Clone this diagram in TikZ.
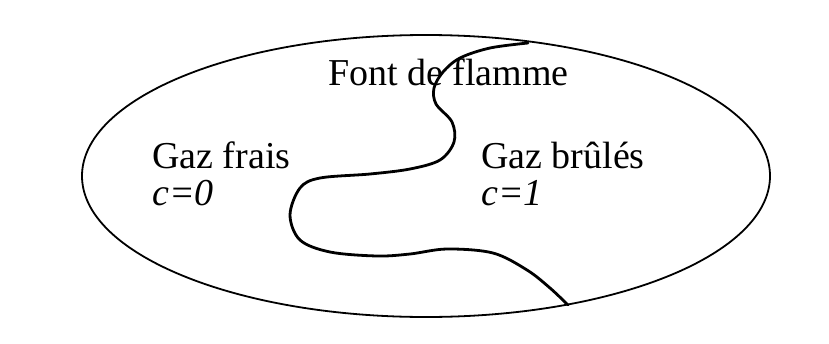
\documentclass[tikz,border=0pt]{standalone}
\usepackage{fontspec}
\setmainfont{Liberation Serif}
\begin{document}
\begin{tikzpicture}[x=1pt,y=-1pt,
  lbl/.style={anchor=base west,inner sep=0pt,font=\fontsize{38}{44}\selectfont},
  front/.style={line width=2.8pt,line join=round,line cap=round}]
\useasboundingbox (0,0) rectangle (829,343);
\draw[line width=1.8pt] (426,176) ellipse [x radius=344, y radius=141];
\draw[front] plot[smooth,tension=0.55] coordinates {
 (528,43) (490,48) (460,58) (443,72) (434,88) (436,104) (452,122) (454,142)
 (440,160) (410,169) (370,174) (320,178) (300,188) (290,215) (300,240)
 (330,252) (377,256) (410,254) (447,249) (493,253) (527,270) (550,288) (568,305)};
\node[lbl] (front) at (328,85) {Font de flamme};
\node[lbl] (frais) at (152,168) {Gaz frais};
\node[lbl] (c0) at (152,205) {\itshape c=0};
\node[lbl] (brules) at (481,168) {Gaz brûlés};
\node[lbl] (c1) at (481,205) {\itshape c=1};
\end{tikzpicture}
\end{document}
